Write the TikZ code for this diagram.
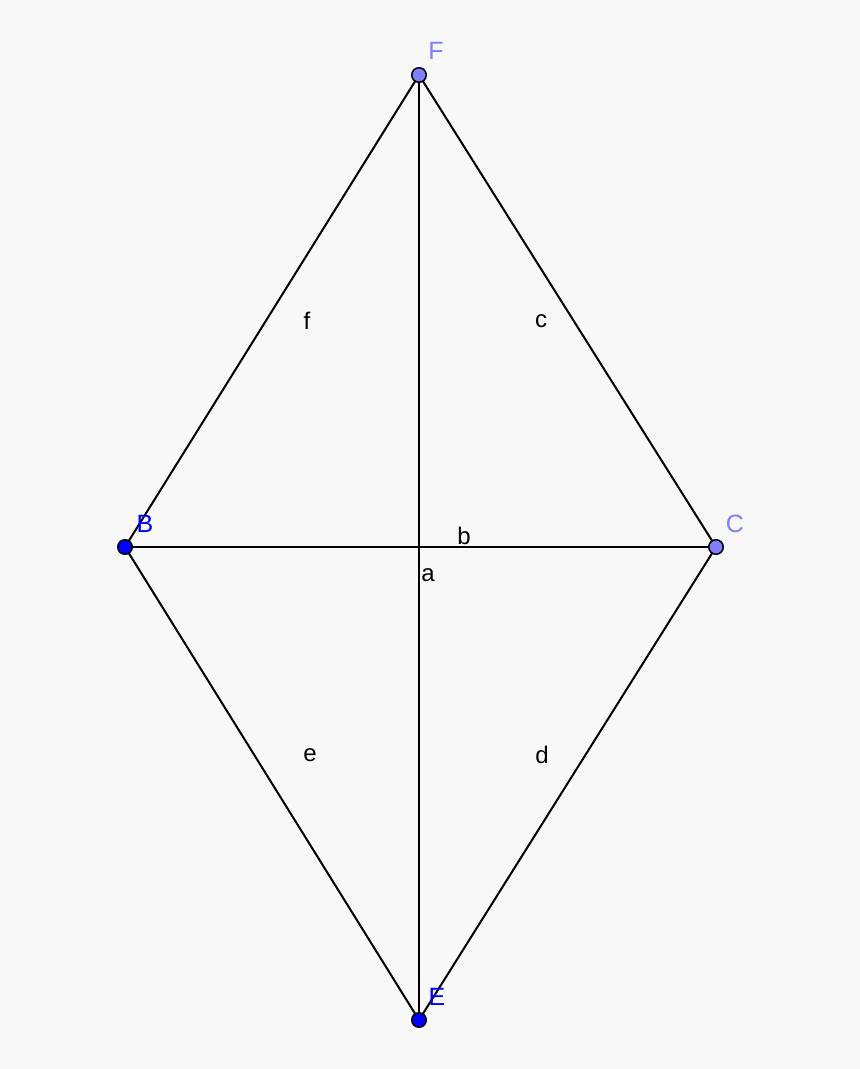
\documentclass[tikz,border=0pt]{standalone}
\usepackage{fontspec}
\setmainfont{Liberation Sans}
\definecolor{bg}{RGB}{248,248,248}
\definecolor{ptlight}{RGB}{128,128,255}
\definecolor{ptdark}{RGB}{0,0,255}
\begin{document}
\begin{tikzpicture}[x=1pt,y=-1pt,
  seg/.style={line width=2pt,black},
  ptA/.style={circle,draw=black,line width=1.5pt,fill=ptlight,minimum size=14.5pt,inner sep=0pt},
  ptB/.style={circle,draw=black,line width=1.5pt,fill=ptdark,minimum size=14.5pt,inner sep=0pt},
  lab/.style={font=\fontsize{25}{29}\selectfont,inner sep=0pt},
  seglab/.style={font=\fontsize{24}{28}\selectfont,inner sep=0pt,text=black}]
\fill[bg] (0,0) rectangle (860,1069);
\useasboundingbox (0,0) rectangle (860,1069);
\coordinate (F) at (419,75);
\coordinate (B) at (125,547);
\coordinate (C) at (716,547);
\coordinate (E) at (419,1020);
\draw[seg] (F) -- (B);
\draw[seg] (F) -- (C);
\draw[seg] (F) -- (E);
\draw[seg] (B) -- (C);
\draw[seg] (B) -- (E);
\draw[seg] (C) -- (E);
\node[ptA] (nF) at (F) {};
\node[ptA] (nC) at (C) {};
\node[ptB] (nB) at (B) {};
\node[ptB] (nE) at (E) {};
\node[lab,text=ptlight] (lF) at (436,51) {F};
\node[lab,text=ptlight] (lC) at (735,524) {C};
\node[lab,text=ptdark] (lB) at (145,524) {B};
\node[lab,text=ptdark] (lE) at (437,997) {E};
\node[seglab] (lf) at (307,321) {f};
\node[seglab] (lc) at (541,321) {c};
\node[seglab] (lb) at (464,536) {b};
\node[seglab] (la) at (428,575) {a};
\node[seglab] (le) at (310,755) {e};
\node[seglab] (ld) at (542,755) {d};
\end{tikzpicture}
\end{document}
